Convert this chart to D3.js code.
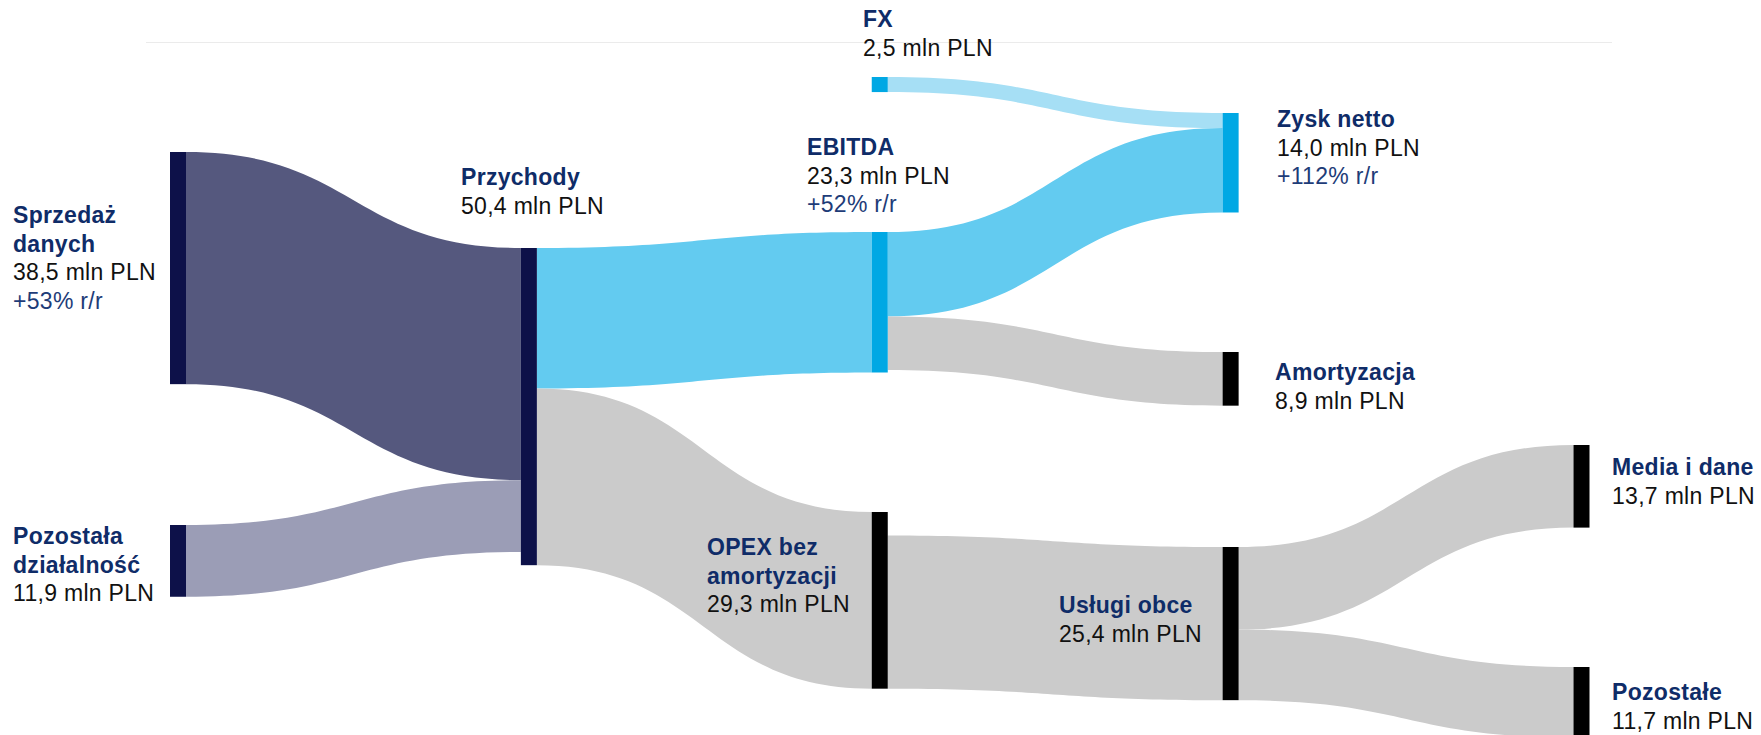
<!DOCTYPE html>
<html lang="pl">
<head>
<meta charset="utf-8">
<script src="https://cdn.jsdelivr.net/npm/d3@7"></script>
<style>
  html, body { margin: 0; padding: 0; background: #fff; }
  svg { display: block; }
  text { font-family: "Liberation Sans", Arial, Helvetica, sans-serif; }
</style>
</head>
<body>
<div id="chart"></div>
<script>
// ---------------- DATA ----------------
const nodeNames = ["Sprzedaż danych", "Pozostała działalność", "Przychody", "FX", "EBITDA",
                   "OPEX bez amortyzacji", "Zysk netto", "Amortyzacja", "Usługi obce",
                   "Media i dane", "Pozostałe"];
const nodeColumns = [0, 0, 1, 2, 2, 2, 3, 3, 3, 4, 4];

const linkSources = ["Sprzedaż danych", "Pozostała działalność", "Przychody", "Przychody", "FX",
                     "EBITDA", "EBITDA", "OPEX bez amortyzacji", "Usługi obce", "Usługi obce"];
const linkTargets = ["Przychody", "Przychody", "EBITDA", "OPEX bez amortyzacji", "Zysk netto",
                     "Zysk netto", "Amortyzacja", "Usługi obce", "Media i dane", "Pozostałe"];
const linkValues  = [38.5, 11.9, 23.3, 29.3, 2.5, 14.0, 8.9, 25.4, 13.7, 11.7];

// label texts: title lines, value line, year-over-year change
const labelTitles = [["Sprzedaż", "danych"], ["Pozostała", "działalność"], ["Przychody"], ["FX"], ["EBITDA"],
                     ["OPEX bez", "amortyzacji"], ["Zysk netto"], ["Amortyzacja"], ["Usługi obce"],
                     ["Media i dane"], ["Pozostałe"]];
const labelValues = ["38,5 mln PLN", "11,9 mln PLN", "50,4 mln PLN", "2,5 mln PLN", "23,3 mln PLN",
                     "29,3 mln PLN", "14,0 mln PLN", "8,9 mln PLN", "25,4 mln PLN", "13,7 mln PLN", "11,7 mln PLN"];
const labelChanges = ["+53% r/r", null, null, null, "+52% r/r", null, "+112% r/r", null, null, null, null];

// ---------------- LAYOUT / STYLE ----------------
const W = 1761, H = 735;
const nodeWidth = 16;
const nodeTops = {               // vertical placement of each node (px)
  "Sprzedaż danych": 152, "Pozostała działalność": 525, "Przychody": 248,
  "FX": 77, "EBITDA": 232, "OPEX bez amortyzacji": 512,
  "Zysk netto": 113, "Amortyzacja": 352, "Usługi obce": 547,
  "Media i dane": 445, "Pozostałe": 667
};
const outAlign = { "OPEX bez amortyzacji": "bottom" };
const labelPos = {               // x anchor and first baseline of each label
  "Sprzedaż danych": [13, 223], "Pozostała działalność": [13, 544], "Przychody": [461, 185],
  "FX": [863, 27], "EBITDA": [807, 155], "OPEX bez amortyzacji": [707, 555],
  "Zysk netto": [1277, 127], "Amortyzacja": [1275, 380], "Usługi obce": [1059, 613],
  "Media i dane": [1612, 475], "Pozostałe": [1612, 700]
};
const nodeColors = {
  "Sprzedaż danych": "#0d1149", "Pozostała działalność": "#0d1149", "Przychody": "#0d1149",
  "FX": "#00a8e4", "EBITDA": "#00a8e4", "Zysk netto": "#00a8e4"
};
const linkColors = ["#55587e", "#9b9db6", "#63cbf0", "#cbcbcb", "#a6dff5", "#63cbf0", "#cbcbcb", "#cbcbcb", "#cbcbcb", "#cbcbcb"];
const lineGap = 28.5;

// ---------------- SCALES ----------------
const x = d3.scaleLinear().domain([0, 4]).range([170, 1573.5]);
const h = d3.scaleLinear().domain([0, 100]).range([0, 603]);   // mln PLN -> px thickness

// ---------------- BUILD GRAPH ----------------
const nodes = nodeNames.map((name, i) => ({ name, col: nodeColumns[i], i, ins: [], outs: [] }));
const byName = new Map(nodes.map(n => [n.name, n]));
const links = linkValues.map((v, i) => {
  const l = { source: byName.get(linkSources[i]), target: byName.get(linkTargets[i]), value: v, color: linkColors[i] };
  l.source.outs.push(l); l.target.ins.push(l);
  return l;
});
nodes.forEach(n => {
  const vin = d3.sum(n.ins, d => d.value), vout = d3.sum(n.outs, d => d.value);
  n.value = Math.max(vin, vout);
  n.x0 = x(n.col); n.x1 = n.x0 + nodeWidth;
  n.y0 = nodeTops[n.name]; n.y1 = n.y0 + h(n.value);
  let yo = outAlign[n.name] === "bottom" ? n.y1 - h(vout) : n.y0;
  n.outs.forEach(l => { l.sy0 = yo; yo += h(l.value); l.sy1 = yo; });
  let yi = n.y0;
  n.ins.forEach(l => { l.ty0 = yi; yi += h(l.value); l.ty1 = yi; });
});

function ribbon(l) {
  const x0 = l.source.x1, x1 = l.target.x0, xm = (x0 + x1) / 2;
  const p = d3.path();
  p.moveTo(x0, l.sy0);
  p.bezierCurveTo(xm, l.sy0, xm, l.ty0, x1, l.ty0);
  p.lineTo(x1, l.ty1);
  p.bezierCurveTo(xm, l.ty1, xm, l.sy1, x0, l.sy1);
  p.closePath();
  return p.toString();
}

// ---------------- DRAW ----------------
const svg = d3.select("#chart").append("svg").attr("width", W).attr("height", H);

svg.append("line").attr("x1", 146).attr("x2", 1612).attr("y1", 42.5).attr("y2", 42.5)
   .attr("stroke", "#ebebeb").attr("stroke-width", 1);

svg.append("g").selectAll("path").data(links).join("path")
   .attr("d", ribbon).attr("fill", d => d.color);

svg.append("g").selectAll("rect").data(nodes).join("rect")
   .attr("x", d => d.x0).attr("y", d => d.y0)
   .attr("width", d => d.x1 - d.x0).attr("height", d => d.y1 - d.y0)
   .attr("fill", d => nodeColors[d.name] || "#000");

const lab = svg.append("g").selectAll("text").data(nodes).join("text")
   .attr("x", d => labelPos[d.name][0]).attr("y", d => labelPos[d.name][1])
   .style("font-size", "23px").style("letter-spacing", "0.3px");
lab.each(function(d) {
  const t = d3.select(this);
  const px = labelPos[d.name][0];
  const lines = [];
  labelTitles[d.i].forEach(s => lines.push({ s, fill: "#0f2c68", weight: "bold" }));
  lines.push({ s: labelValues[d.i], fill: "#111", weight: "normal" });
  if (labelChanges[d.i]) lines.push({ s: labelChanges[d.i], fill: "#1e3c78", weight: "normal" });
  lines.forEach((ln, j) => {
    t.append("tspan").attr("x", px).attr("dy", j === 0 ? 0 : lineGap)
     .attr("fill", ln.fill).attr("font-weight", ln.weight).text(ln.s);
  });
});
</script>
</body>
</html>
